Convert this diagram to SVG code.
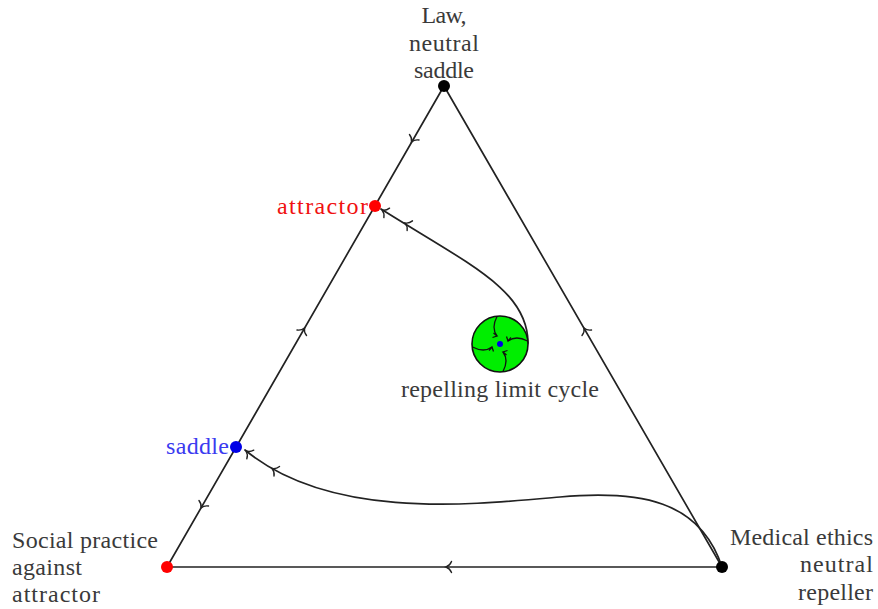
<svg xmlns="http://www.w3.org/2000/svg" xmlns:xlink="http://www.w3.org/1999/xlink" width="878" height="609" viewBox="0 0 878 609">
<style>
  .edge{fill:none;stroke:#222;stroke-width:1.7;stroke-linecap:round}
  .chev{fill:none;stroke:#222;stroke-width:1.4;stroke-linecap:round}
  .lbl{font-family:"Liberation Serif","DejaVu Serif",serif;font-size:24px;fill:#3a3a3a}
  .inner{fill:none;stroke:#111;stroke-width:1.3}
</style>
<defs>
  <path id="chev" class="chev" d="M-5.5,-5.5 C-4.3,-2.4 -2,-0.7 0,0 C-2,0.7 -4.3,2.4 -5.5,5.5"/>
  <g id="spoke">
    <path class="inner" d="M-3,-27.5 Q-9,-16 -3,-8"/>
    <path class="inner" d="M-6.5,-11 L-3,-8 L-7.5,-6.5"/>
  </g>
</defs>
<rect width="878" height="609" fill="#fff"/>
<g id="connectors">
  <line class="edge" x1="444" y1="86" x2="167" y2="567"/>
  <line class="edge" x1="444" y1="86" x2="722" y2="567"/>
  <line class="edge" x1="167" y1="567" x2="722" y2="567"/>
  <path class="edge" d="M528,343 C528,290 470,265 381,209"/>
  <path class="edge" d="M722,567 C700,500 640,490 560,497 C470,505 330,520 245,450"/>
  <use xlink:href="#chev" transform="translate(411.5,142) rotate(119.9)"/>
  <use xlink:href="#chev" transform="translate(304.5,328) rotate(-60.1)"/>
  <use xlink:href="#chev" transform="translate(201,508) rotate(119.9)"/>
  <use xlink:href="#chev" transform="translate(584,328) rotate(-120)"/>
  <use xlink:href="#chev" transform="translate(446,567) rotate(180)"/>
  <use xlink:href="#chev" transform="translate(405,223) rotate(209)"/>
  <use xlink:href="#chev" transform="translate(382,210) rotate(211)"/>
  <use xlink:href="#chev" transform="translate(272,468.5) rotate(210)"/>
  <use xlink:href="#chev" transform="translate(246,451) rotate(219)"/>
</g>
<g id="node-law">
  <circle cx="444" cy="86" r="6" fill="#000"/>
  <text class="lbl" x="444" y="23" text-anchor="middle" textLength="45">Law,</text>
  <text class="lbl" x="444" y="51" text-anchor="middle" textLength="70">neutral</text>
  <text class="lbl" x="444" y="78" text-anchor="middle" textLength="60">saddle</text>
</g>
<g id="node-attractor">
  <circle cx="375" cy="206" r="6" fill="#f00"/>
  <text class="lbl" x="368" y="214" text-anchor="end" style="fill:#f01010" textLength="91">attractor</text>
</g>
<g id="node-saddle">
  <circle cx="236" cy="447" r="6" fill="#0000e6"/>
  <text class="lbl" x="229" y="454" text-anchor="end" style="fill:#3a3af0" textLength="63">saddle</text>
</g>
<g id="node-social">
  <circle cx="167" cy="567" r="6" fill="#f00"/>
  <text class="lbl" x="12" y="548" textLength="146">Social practice</text>
  <text class="lbl" x="12" y="575" textLength="70">against</text>
  <text class="lbl" x="12" y="602" textLength="88">attractor</text>
</g>
<g id="node-medical">
  <circle cx="722" cy="567" r="6" fill="#000"/>
  <text class="lbl" x="873" y="545" text-anchor="end" textLength="143">Medical ethics</text>
  <text class="lbl" x="873" y="572" text-anchor="end" textLength="73">neutral</text>
  <text class="lbl" x="873" y="600" text-anchor="end" textLength="75">repeller</text>
</g>
<g id="node-cycle">
  <circle cx="500" cy="344" r="28" fill="#00ee00" stroke="#111" stroke-width="1.6"/>
  <use xlink:href="#spoke" transform="translate(500,344)"/>
  <use xlink:href="#spoke" transform="translate(500,344) rotate(90)"/>
  <use xlink:href="#spoke" transform="translate(500,344) rotate(180)"/>
  <use xlink:href="#spoke" transform="translate(500,344) rotate(270)"/>
  <circle cx="500" cy="344" r="3" fill="#0000e6"/>
  <text class="lbl" x="500" y="397" text-anchor="middle" textLength="198">repelling limit cycle</text>
</g>
</svg>
